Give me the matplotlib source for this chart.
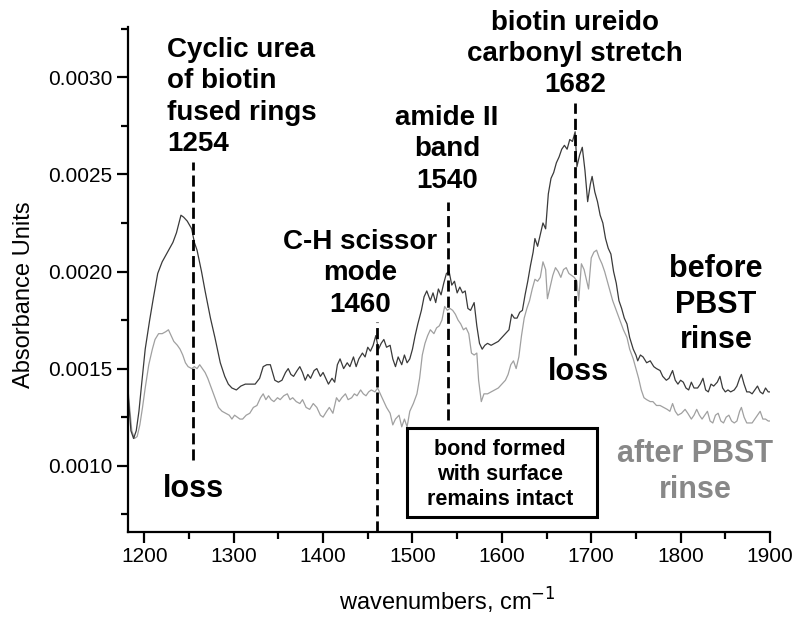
import numpy as np
import matplotlib
matplotlib.use("Agg")
import matplotlib.pyplot as plt
from matplotlib.patches import Rectangle
from matplotlib.ticker import MultipleLocator, FormatStrFormatter

plt.rcParams['font.family'] = ['Liberation Sans', 'DejaVu Sans']
plt.rcParams['xtick.labelsize'] = 15
plt.rcParams['ytick.labelsize'] = 15

# spectrum before PBST rinse (wavenumber, absorbance)
wn_before = [1182, 1185, 1188, 1191, 1194, 1197, 1201, 1206, 1210, 1215, 1220, 1226, 1232, 1236,
             1241, 1244, 1248, 1253, 1256, 1259, 1264, 1268, 1274, 1279, 1285, 1290, 1294, 1298,
             1303, 1308, 1313, 1318, 1324, 1329, 1333, 1337, 1341, 1346, 1350, 1354, 1358, 1361,
             1364, 1367, 1371, 1374, 1377, 1380, 1383, 1386, 1390, 1393, 1397, 1400, 1403, 1406,
             1410, 1413, 1416, 1419, 1423, 1427, 1430, 1434, 1437, 1440, 1444, 1447, 1450, 1453,
             1456, 1459, 1462, 1465, 1468, 1471, 1475, 1478, 1481, 1484, 1488, 1491, 1494, 1497,
             1500, 1503, 1506, 1510, 1513, 1516, 1520, 1523, 1526, 1529, 1532, 1535, 1538, 1541,
             1544, 1547, 1550, 1553, 1556, 1559, 1562, 1565, 1569, 1572, 1575, 1578, 1581, 1584,
             1588, 1592, 1596, 1600, 1604, 1608, 1611, 1614, 1617, 1620, 1623, 1626, 1629, 1632,
             1635, 1637, 1640, 1643, 1646, 1649, 1652, 1655, 1658, 1661, 1664, 1667, 1670, 1673,
             1676, 1679, 1682, 1684, 1687, 1690, 1693, 1696, 1699, 1701, 1704, 1707, 1710, 1713,
             1716, 1719, 1722, 1725, 1728, 1731, 1734, 1737, 1740, 1743, 1747, 1750, 1752, 1755,
             1758, 1762, 1766, 1770, 1773, 1777, 1780, 1784, 1787, 1791, 1794, 1797, 1800, 1803,
             1806, 1809, 1812, 1815, 1819, 1822, 1825, 1828, 1831, 1834, 1837, 1841, 1844, 1847,
             1850, 1853, 1856, 1860, 1863, 1866, 1868, 1871, 1874, 1877, 1880, 1883, 1886, 1889,
             1892, 1895, 1898, 1900]
abs_before = [0.00136, 0.00118, 0.00114, 0.00118, 0.00128, 0.00142, 0.00160, 0.00175, 0.00186,
              0.00199, 0.00205, 0.00210, 0.00215, 0.00220, 0.00229, 0.00228, 0.00226, 0.00222,
              0.00215, 0.00211, 0.00200, 0.00190, 0.00176, 0.00166, 0.00153, 0.00146, 0.00142,
              0.00140, 0.00139, 0.00141, 0.00142, 0.00142, 0.00142, 0.00145, 0.00151, 0.00152,
              0.00152, 0.00144, 0.00143, 0.00144, 0.00148, 0.00150, 0.00147, 0.00146, 0.00149,
              0.00151, 0.00148, 0.00144, 0.00147, 0.00145, 0.00149, 0.00150, 0.00146, 0.00148,
              0.00145, 0.00142, 0.00145, 0.00143, 0.00152, 0.00155, 0.00150, 0.00153, 0.00151,
              0.00156, 0.00151, 0.00155, 0.00158, 0.00156, 0.00161, 0.00159, 0.00162, 0.00167,
              0.00160, 0.00163, 0.00165, 0.00161, 0.00162, 0.00155, 0.00151, 0.00156, 0.00152,
              0.00157, 0.00153, 0.00155, 0.00160, 0.00167, 0.00173, 0.00180, 0.00187, 0.00190,
              0.00185, 0.00189, 0.00184, 0.00191, 0.00188, 0.00194, 0.00199, 0.00200, 0.00193,
              0.00195, 0.00189, 0.00192, 0.00189, 0.00190, 0.00181, 0.00180, 0.00184, 0.00172,
              0.00163, 0.00160, 0.00162, 0.00163, 0.00162, 0.00163, 0.00164, 0.00166, 0.00168,
              0.00170, 0.00178, 0.00176, 0.00176, 0.00179, 0.00180, 0.00188, 0.00195, 0.00203,
              0.00210, 0.00217, 0.00213, 0.00219, 0.00225, 0.00222, 0.00240, 0.00248, 0.00251,
              0.00256, 0.00259, 0.00263, 0.00265, 0.00263, 0.00268, 0.00267, 0.00272, 0.00254,
              0.00260, 0.00264, 0.00252, 0.00236, 0.00245, 0.00249, 0.00241, 0.00236, 0.00229,
              0.00225, 0.00217, 0.00212, 0.00209, 0.00200, 0.00194, 0.00185, 0.00181, 0.00176,
              0.00173, 0.00166, 0.00160, 0.00157, 0.00154, 0.00157, 0.00156, 0.00153, 0.00154,
              0.00151, 0.00150, 0.00149, 0.00146, 0.00144, 0.00145, 0.00149, 0.00144, 0.00142,
              0.00144, 0.00143, 0.00140, 0.00139, 0.00143, 0.00140, 0.00140, 0.00142, 0.00145,
              0.00139, 0.00138, 0.00142, 0.00141, 0.00143, 0.00146, 0.00140, 0.00138, 0.00139,
              0.00138, 0.00139, 0.00141, 0.00145, 0.00147, 0.00142, 0.00138, 0.00138, 0.00137,
              0.00139, 0.00141, 0.00138, 0.00137, 0.00140, 0.00138, 0.00138]

# spectrum after PBST rinse
wn_after = [1182, 1186, 1189, 1192, 1195, 1198, 1201, 1205, 1209, 1212, 1216, 1220, 1224, 1227,
            1230, 1233, 1237, 1240, 1243, 1246, 1249, 1253, 1256, 1259, 1262, 1265, 1268, 1271,
            1275, 1279, 1283, 1287, 1291, 1295, 1298, 1301, 1304, 1307, 1310, 1314, 1318, 1322,
            1326, 1330, 1333, 1336, 1339, 1342, 1345, 1349, 1352, 1356, 1360, 1363, 1366, 1370,
            1374, 1377, 1381, 1385, 1389, 1393, 1397, 1400, 1404, 1407, 1411, 1415, 1418, 1421,
            1425, 1428, 1432, 1435, 1438, 1442, 1445, 1448, 1451, 1454, 1458, 1461, 1464, 1467,
            1471, 1475, 1478, 1481, 1485, 1488, 1491, 1494, 1497, 1501, 1505, 1508, 1511, 1514,
            1517, 1520, 1524, 1527, 1530, 1533, 1536, 1539, 1542, 1545, 1548, 1551, 1554, 1557,
            1560, 1563, 1566, 1569, 1572, 1574, 1577, 1580, 1584, 1588, 1592, 1596, 1600, 1604,
            1607, 1610, 1613, 1616, 1619, 1622, 1625, 1628, 1631, 1634, 1637, 1640, 1643, 1646,
            1649, 1651, 1654, 1657, 1660, 1663, 1666, 1669, 1672, 1675, 1678, 1681, 1684, 1686,
            1689, 1692, 1695, 1697, 1700, 1703, 1706, 1709, 1712, 1715, 1718, 1721, 1724, 1728,
            1732, 1736, 1740, 1743, 1747, 1750, 1753, 1756, 1759, 1762, 1766, 1769, 1773, 1777,
            1781, 1785, 1788, 1791, 1794, 1797, 1801, 1805, 1808, 1812, 1815, 1818, 1821, 1824,
            1827, 1830, 1833, 1836, 1839, 1842, 1845, 1848, 1851, 1854, 1857, 1860, 1863, 1866,
            1868, 1871, 1874, 1877, 1880, 1883, 1886, 1889, 1892, 1895, 1898, 1900]
abs_after = [0.00138, 0.00118, 0.00114, 0.00115, 0.00121, 0.00130, 0.00140, 0.00152, 0.00160,
             0.00165, 0.00168, 0.00168, 0.00169, 0.00170, 0.00167, 0.00164, 0.00162, 0.00160,
             0.00157, 0.00153, 0.00151, 0.00150, 0.00151, 0.00150, 0.00152, 0.00150, 0.00148,
             0.00145, 0.00140, 0.00135, 0.00130, 0.00128, 0.00127, 0.00126, 0.00124, 0.00126,
             0.00125, 0.00124, 0.00124, 0.00126, 0.00127, 0.00130, 0.00131, 0.00135, 0.00137,
             0.00134, 0.00136, 0.00134, 0.00133, 0.00135, 0.00134, 0.00136, 0.00137, 0.00134,
             0.00135, 0.00133, 0.00132, 0.00134, 0.00130, 0.00129, 0.00132, 0.00130, 0.00126,
             0.00125, 0.00128, 0.00130, 0.00127, 0.00135, 0.00133, 0.00135, 0.00137, 0.00134,
             0.00135, 0.00137, 0.00136, 0.00139, 0.00137, 0.00136, 0.00138, 0.00139, 0.00138,
             0.00140, 0.00137, 0.00134, 0.00130, 0.00127, 0.00121, 0.00124, 0.00126, 0.00120,
             0.00124, 0.00120, 0.00128, 0.00132, 0.00137, 0.00145, 0.00157, 0.00163, 0.00167,
             0.00170, 0.00168, 0.00171, 0.00172, 0.00175, 0.00182, 0.00180, 0.00181, 0.00180,
             0.00178, 0.00175, 0.00173, 0.00170, 0.00171, 0.00168, 0.00158, 0.00157, 0.00158,
             0.00144, 0.00133, 0.00137, 0.00137, 0.00138, 0.00139, 0.00140, 0.00142, 0.00144,
             0.00147, 0.00152, 0.00154, 0.00150, 0.00156, 0.00167, 0.00176, 0.00181, 0.00185,
             0.00191, 0.00196, 0.00195, 0.00197, 0.00205, 0.00201, 0.00186, 0.00192, 0.00198,
             0.00202, 0.00200, 0.00197, 0.00201, 0.00202, 0.00199, 0.00198, 0.00197, 0.00195,
             0.00185, 0.00204, 0.00201, 0.00195, 0.00191, 0.00207, 0.00210, 0.00211, 0.00207,
             0.00204, 0.00200, 0.00195, 0.00190, 0.00185, 0.00180, 0.00175, 0.00170, 0.00166,
             0.00160, 0.00155, 0.00150, 0.00145, 0.00139, 0.00135, 0.00134, 0.00133, 0.00133,
             0.00131, 0.00131, 0.00130, 0.00129, 0.00128, 0.00132, 0.00128, 0.00126, 0.00127,
             0.00129, 0.00127, 0.00124, 0.00126, 0.00129, 0.00126, 0.00124, 0.00126, 0.00128,
             0.00123, 0.00122, 0.00126, 0.00127, 0.00123, 0.00122, 0.00125, 0.00126, 0.00123,
             0.00122, 0.00123, 0.00128, 0.00130, 0.00125, 0.00122, 0.00122, 0.00122, 0.00124,
             0.00126, 0.00128, 0.00124, 0.00124, 0.00123, 0.00123]

# marked bands: position, dashed line top and bottom
band_pos = [1254, 1460, 1540, 1682]
band_top = [0.002565, 0.001740, 0.002359, 0.002866]
band_bottom = [0.001027, 0.00066, 0.001233, 0.001568]

band_labels = ["Cyclic urea\nof biotin\nfused rings\n1254",
               "C-H scissor\nmode\n1460",
               "amide II\nband\n1540",
               "biotin ureido\ncarbonyl stretch\n1682"]

fig = plt.figure(figsize=(8, 6.23), dpi=100)
ax = fig.add_axes([0.1596, 0.1466, 0.8029, 0.8105])

ax.plot(wn_after, abs_after, color='#a0a0a0', lw=0.9)
ax.plot(wn_before, abs_before, color='#3a3a3a', lw=0.9)

ax.vlines(band_pos, band_bottom, band_top, colors='black', lw=2.0,
          linestyles=(0, (4, 1.8)))

# band labels
lab = dict(fontsize=20, fontweight='bold', linespacing=1.27, va='center')
ax.text(1225.5, 0.00290, band_labels[0], ha='left', **lab)
ax.text(1441, 0.00199, band_labels[1], ha='center', multialignment='center', **lab)
ax.text(1538.6, 0.00263, band_labels[2], ha='center', multialignment='center', **lab)
ax.text(1681.5, 0.00312, band_labels[3], ha='center', multialignment='center', **lab)

ax.text(1255, 0.00088, "loss", ha='center', va='center', fontsize=22, fontweight='bold')
ax.text(1685.5, 0.00148, "loss", ha='center', va='center', fontsize=22, fontweight='bold')

ax.text(1839.5, 0.00183, "before\nPBST\nrinse", ha='center', va='center', fontsize=22,
        fontweight='bold', linespacing=1.25, multialignment='center')
ax.text(1816, 0.000968, "after PBST\nrinse", ha='center', va='center', fontsize=22,
        fontweight='bold', linespacing=1.25, multialignment='center', color='#888888')

# boxed note
ax.add_patch(Rectangle((1494, 0.000733), 212.5, 0.000459, fill=False, lw=2.2,
                       edgecolor='black', zorder=3))
ax.text(1598, 0.000953, "bond formed\nwith surface\nremains intact", ha='center',
        va='center', fontsize=15.5, fontweight='bold', linespacing=1.25,
        multialignment='center')

ax.set_xlim(1181.4, 1900)
ax.set_ylim(0.00066, 0.003261)
ax.xaxis.set_major_locator(MultipleLocator(100))
ax.xaxis.set_minor_locator(MultipleLocator(50))
ax.yaxis.set_major_locator(MultipleLocator(0.0005))
ax.yaxis.set_minor_locator(MultipleLocator(0.00025))
ax.yaxis.set_major_formatter(FormatStrFormatter('%.4f'))

for side in ['top', 'right']:
    ax.spines[side].set_visible(False)
for side in ['left', 'bottom']:
    ax.spines[side].set_linewidth(1.6)

ax.tick_params(which='major', length=8, width=1.6, pad=3, labelsize=15)
ax.tick_params(which='minor', length=5, width=1.6)

ax.set_xlabel("wavenumbers, cm$^{-1}$", fontsize=17)
ax.set_ylabel("Absorbance Units", fontsize=17)
ax.yaxis.set_label_coords(-0.145, 0.47)
ax.xaxis.set_label_coords(0.497, -0.108)

fig.savefig("out.png", dpi=100)
